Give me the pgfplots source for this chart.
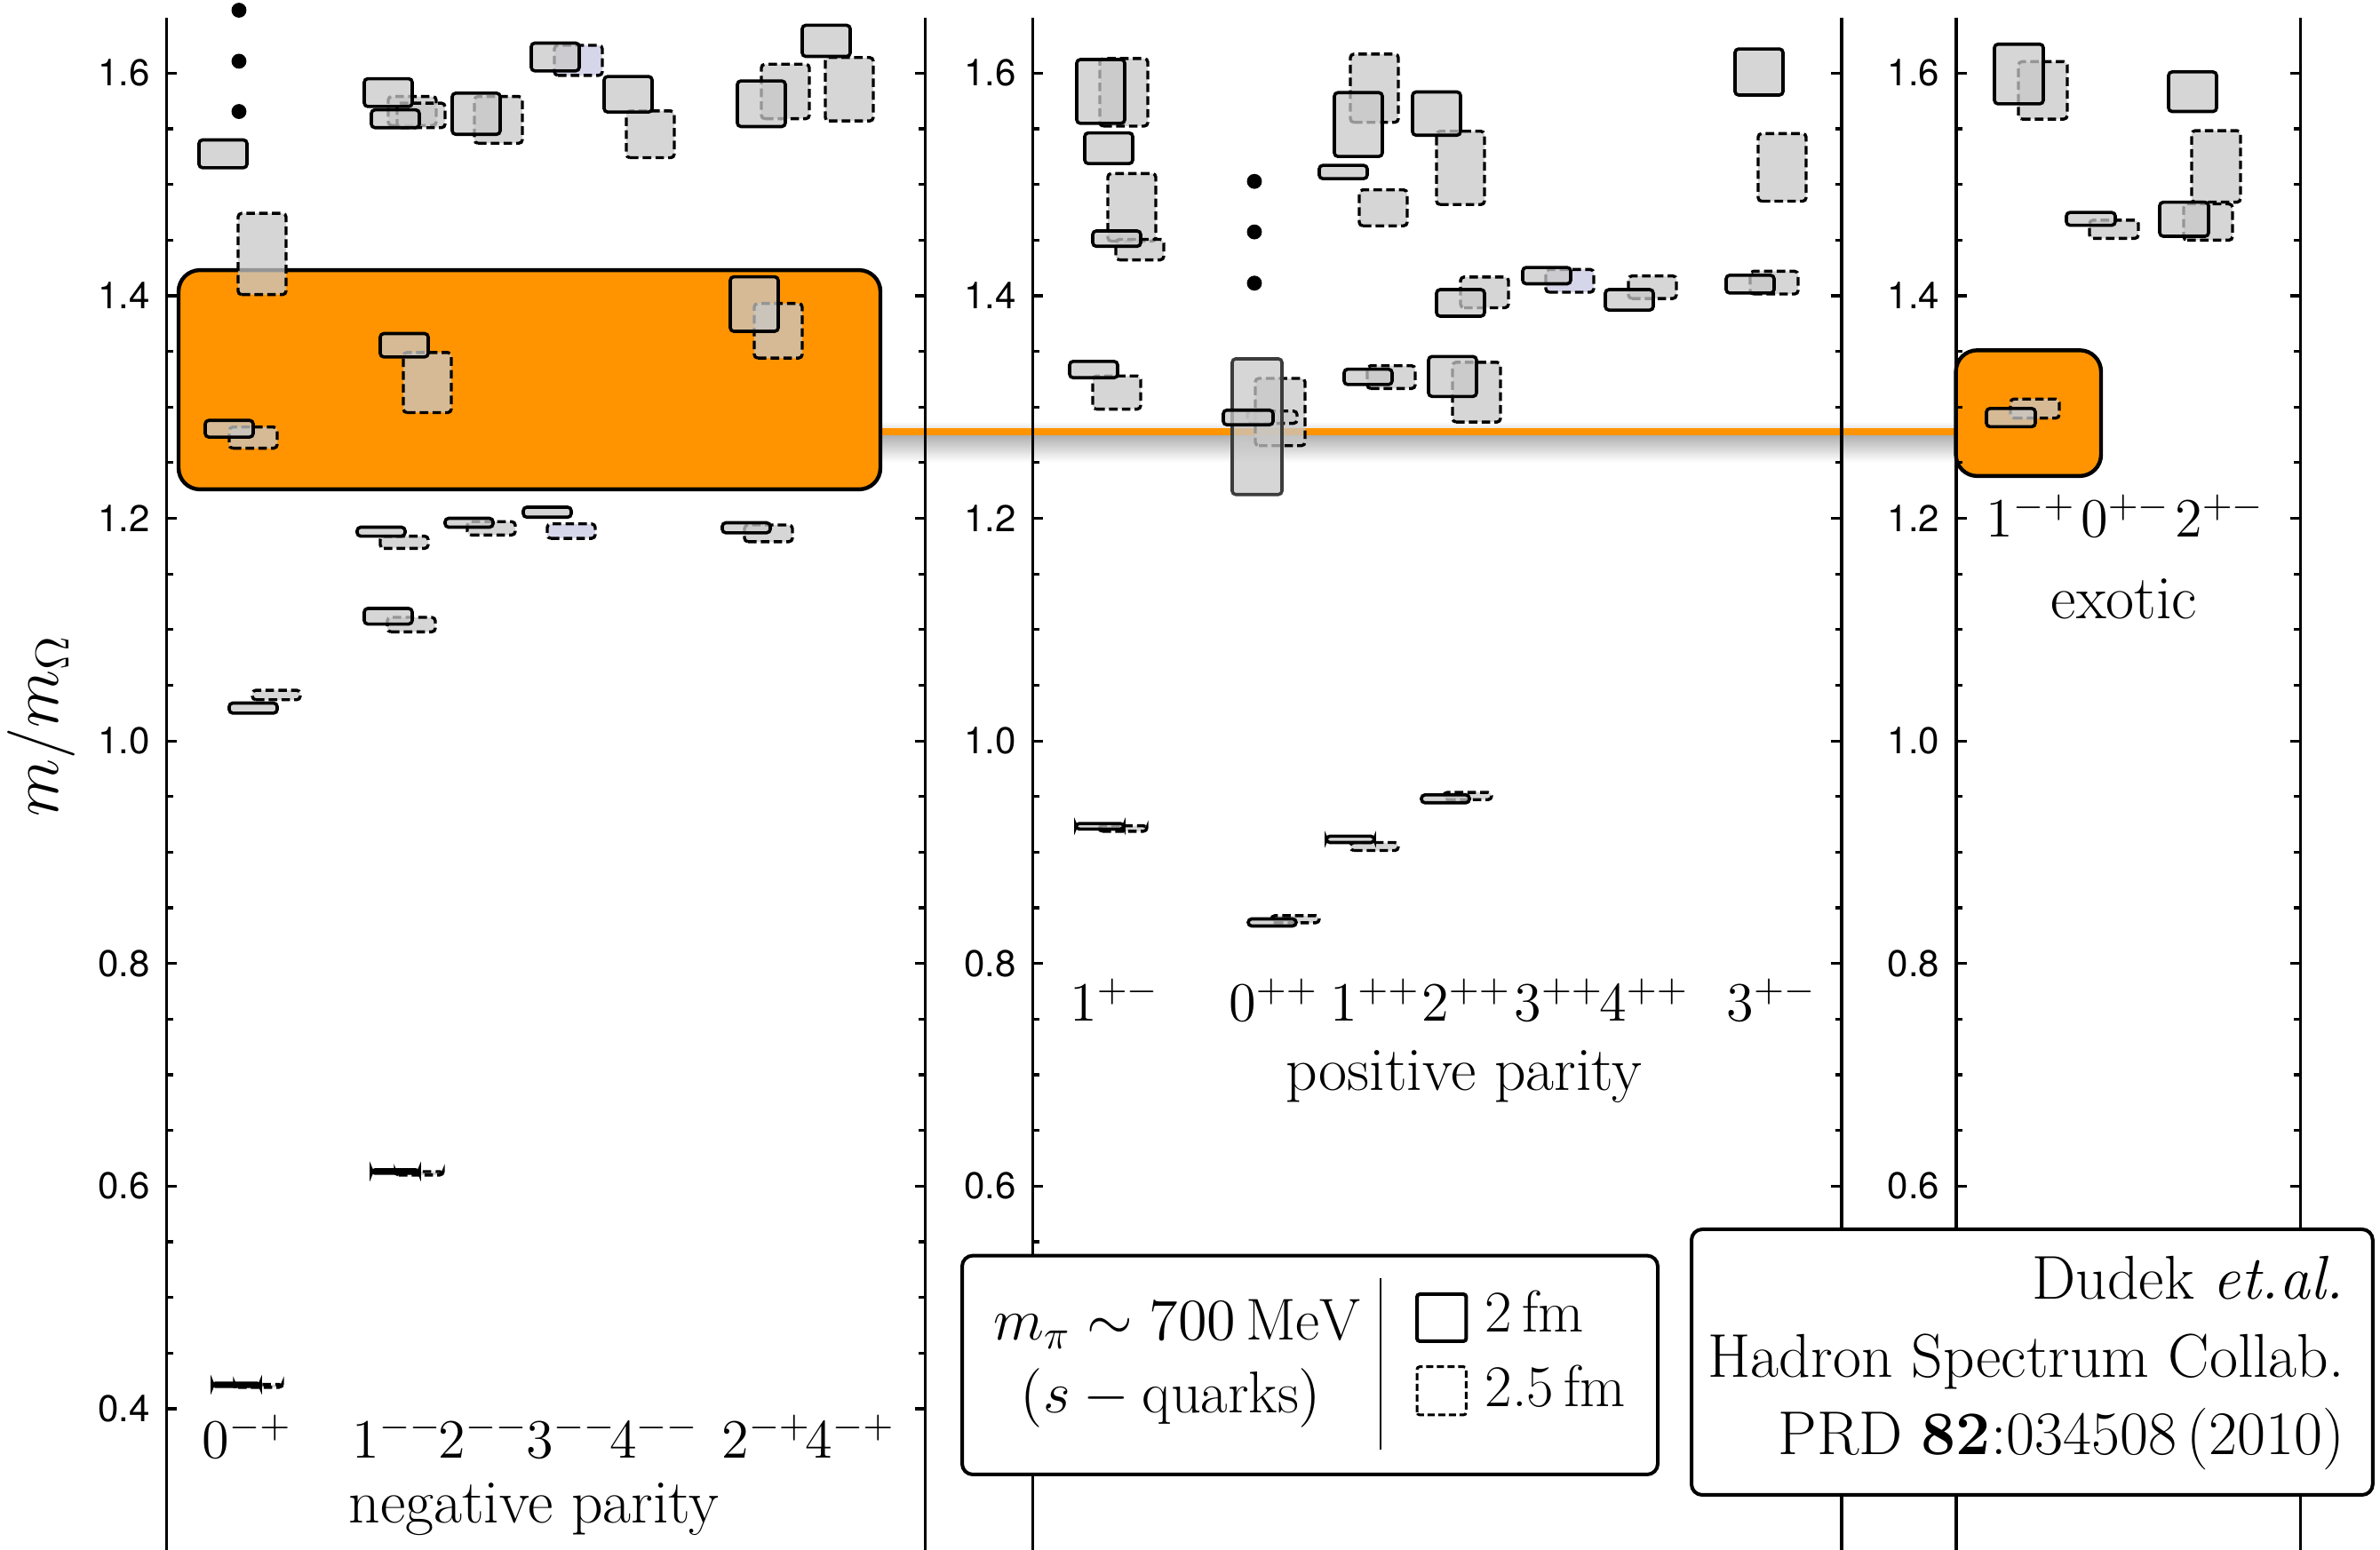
\RequirePackage{fix-cm}
\documentclass[border=0pt]{standalone}
\usepackage{fontspec}
\usepackage{pgfplots}
\pgfplotsset{compat=1.18}
\newfontfamily\ticksf{TeX Gyre Heros}
\definecolor{orng}{RGB}{255,148,0}
\definecolor{boxgray}{RGB}{200,200,200}
\definecolor{lav}{RGB}{200,200,228}
\definecolor{dkg}{RGB}{60,60,60}
\newcommand\lab{\fontsize{15.6}{19}\selectfont}
\newcommand\txt{\fontsize{17.4}{21}\selectfont}
\newcommand\leg{\fontsize{16.6}{20}\selectfont}
\tikzset{
  sbox/.style={draw=black, line width=0.9pt, fill=boxgray, fill opacity=0.75, rounded corners=1pt},
  dbox/.style={draw=black, line width=0.85pt, dash pattern=on 2.4pt off 1.2pt, fill=boxgray, fill opacity=0.75, rounded corners=1pt},
}
% \BX{style}{x left}{x right}{lower value}{upper value}
\newcommand\BX[5]{\addplot[#1] coordinates {(#2,#4) (#3,#4) (#3,#5) (#2,#5)} --cycle;}
\pgfplotsset{
  panel/.style={
    x=0.25pt, y=313.25pt,
    ymin=0.27306, ymax=1.65,
    axis x line=none, axis y line=box,
    ytick={0.4,0.6,0.8,1.0,1.2,1.4,1.6}, minor y tick num=3,
    ytick pos=both, yticklabel pos=left, tick align=inside,
    xtick=\empty,
    clip=false, axis on top,
    axis line style={line width=0.9pt},
    major tick length=2.9pt, minor tick length=1.8pt,
    every tick/.style={line width=0.8pt, black},
    yticklabel style={font=\ticksf\fontsize{10.5}{12}\selectfont, xshift=-1.2pt,
      /pgf/number format/.cd, fixed, fixed zerofill, precision=1, assume math mode=true},
    anchor=south west,
  },
  hidelow/.style={yticklabels={,0.6,0.8,1.0,1.2,1.4,1.6}},
}
\begin{document}
\begin{tikzpicture}
\useasboundingbox (0,0) rectangle (669.75pt,436.25pt);
% ---------------- negative parity ----------------
\begin{axis}[panel, at={(46.875pt,0pt)}, xmin=187.5, xmax=1041.5]
\addplot[draw=none, top color=black!32, bottom color=white] coordinates {(991,1.2505) (2202,1.2505) (2202,1.2755) (991,1.2755)} --cycle;
\addplot[draw=none, top color=white, bottom color=black!12] coordinates {(991,1.2795) (2202,1.2795) (2202,1.287) (991,1.287)} --cycle;
\addplot[orng, line width=2pt] coordinates {(991,1.278) (2202,1.278)};
\addplot[draw=black, line width=1.1pt, fill=orng, rounded corners=6pt] coordinates {(201,1.226) (991,1.226) (991,1.423) (201,1.423)} --cycle;
% 2.5 fm
\BX{dbox}{268}{322}{1.401}{1.474}
\BX{dbox}{258}{312}{1.263}{1.282}
\BX{dbox}{437}{491}{1.553}{1.579}
\BX{dbox}{447}{501}{1.551}{1.573}
\BX{dbox}{534}{588}{1.537}{1.579}
\BX{dbox,fill=lav}{624}{678}{1.598}{1.625}
\BX{dbox}{705}{759}{1.524}{1.566}
\BX{dbox}{857}{911}{1.559}{1.608}
\BX{dbox}{929}{983}{1.557}{1.614}
\BX{dbox}{454}{508}{1.295}{1.349}
\BX{dbox}{849}{903}{1.344}{1.393}
\BX{dbox}{428}{482}{1.173}{1.184}
\BX{dbox}{526}{580}{1.185}{1.197}
\BX{dbox,fill=lav}{616}{670}{1.182}{1.195}
\BX{dbox}{838}{892}{1.179}{1.194}
\BX{dbox}{436}{490}{1.098}{1.111}
\BX{dbox}{284}{338}{1.037}{1.0455}
\BX{dbox}{264}{318}{0.4192}{0.4218}
\BX{dbox}{445}{499}{0.610}{0.613}
% 2 fm
\BX{sbox}{224}{278}{1.515}{1.540}
\BX{sbox}{410}{464}{1.570}{1.595}
\BX{sbox}{418}{472}{1.551}{1.567}
\BX{sbox}{509}{563}{1.545}{1.582}
\BX{sbox}{598}{652}{1.602}{1.627}
\BX{sbox}{680}{734}{1.565}{1.597}
\BX{sbox}{830}{884}{1.552}{1.593}
\BX{sbox}{903}{957}{1.615}{1.643}
\BX{sbox}{231}{285}{1.273}{1.288}
\BX{sbox}{428}{482}{1.345}{1.366}
\BX{sbox}{822}{876}{1.368}{1.417}
\BX{sbox}{402}{456}{1.184}{1.192}
\BX{sbox}{501}{555}{1.192}{1.200}
\BX{sbox}{589}{643}{1.201}{1.210}
\BX{sbox}{813}{867}{1.187}{1.196}
\BX{sbox}{410}{464}{1.105}{1.119}
\BX{sbox}{258}{312}{1.025}{1.034}
\BX{sbox}{239}{293}{0.420}{0.423}
\BX{sbox}{418}{472}{0.6116}{0.6146}
\addplot[only marks, mark=*, mark size=1.9pt, black] coordinates {(269,1.6565) (269,1.6107) (269,1.5655)};
\node[anchor=base, font=\lab] at (axis cs:278,0.356) {$0^{-+}$};
\node[anchor=base, font=\lab] at (axis cs:447,0.356) {$1^{--}$};
\node[anchor=base, font=\lab] at (axis cs:544,0.356) {$2^{--}$};
\node[anchor=base, font=\lab] at (axis cs:643,0.356) {$3^{--}$};
\node[anchor=base, font=\lab] at (axis cs:736.5,0.356) {$4^{--}$};
\node[anchor=base, font=\lab] at (axis cs:862.7,0.356) {$2^{-+}$};
\node[anchor=base, font=\lab] at (axis cs:957,0.356) {$4^{-+}$};
\node[anchor=base, font=\txt] at (axis cs:601,0.297) {negative parity};
\end{axis}
% ---------------- positive parity ----------------
\begin{axis}[panel, hidelow, at={(290.625pt,0pt)}, xmin=1162.5, xmax=2073]
\BX{dbox}{1238}{1292}{1.5524}{1.6131}
\BX{dbox}{1247}{1301}{1.449}{1.5098}
\BX{dbox}{1256}{1310}{1.4322}{1.4506}
\BX{dbox}{1230}{1284}{1.2981}{1.3279}
\BX{dbox}{1413}{1469}{1.2653}{1.3257}
\BX{dbox}{1404}{1460}{1.2853}{1.2964}
\BX{dbox}{1520}{1574}{1.5558}{1.6171}
\BX{dbox}{1530}{1584}{1.4628}{1.4951}
\BX{dbox}{1539}{1593}{1.3166}{1.3371}
\BX{dbox}{1617}{1671}{1.4819}{1.5478}
\BX{dbox}{1644}{1698}{1.3892}{1.4168}
\BX{dbox}{1635}{1689}{1.2865}{1.3402}
\BX{dbox,fill=lav}{1740}{1794}{1.4031}{1.4236}
\BX{dbox}{1833}{1887}{1.3975}{1.4178}
\BX{dbox}{1979}{2033}{1.4849}{1.5457}
\BX{dbox}{1970}{2024}{1.4015}{1.4220}
\BX{dbox}{1237}{1291}{0.9188}{0.9238}
\BX{dbox}{1431}{1485}{0.8366}{0.843}
\BX{dbox}{1520}{1574}{0.9015}{0.9087}
\BX{dbox}{1625}{1679}{0.9472}{0.9537}
\BX{sbox}{1212}{1266}{1.5549}{1.6122}
\BX{sbox}{1221}{1275}{1.5187}{1.5463}
\BX{sbox}{1230}{1284}{1.4444}{1.4582}
\BX{sbox}{1204}{1258}{1.3263}{1.3410}
\BX{sbox,draw=dkg}{1387}{1443}{1.2214}{1.3433}
\BX{sbox}{1377}{1433}{1.2840}{1.2972}
\BX{sbox}{1502}{1556}{1.5251}{1.5825}
\BX{sbox}{1485}{1539}{1.5052}{1.5171}
\BX{sbox}{1513}{1567}{1.3202}{1.3340}
\BX{sbox}{1590}{1644}{1.5442}{1.5831}
\BX{sbox}{1617}{1671}{1.3816}{1.4055}
\BX{sbox}{1608}{1662}{1.3095}{1.3454}
\BX{sbox}{1714}{1768}{1.4107}{1.4254}
\BX{sbox}{1807}{1861}{1.3871}{1.4055}
\BX{sbox}{1953}{2007}{1.5803}{1.6217}
\BX{sbox}{1943}{1997}{1.4024}{1.4184}
\BX{sbox}{1211}{1265}{0.9208}{0.9258}
\BX{sbox}{1405}{1459}{0.8337}{0.8401}
\BX{sbox}{1493}{1547}{0.9087}{0.9144}
\BX{sbox}{1600}{1654}{0.9444}{0.9515}
\addplot[only marks, mark=*, mark size=1.9pt, black] coordinates {(1412,1.5027) (1412,1.4573) (1412,1.4113)};
\node[anchor=base, font=\lab] at (axis cs:1254.6,0.748) {$1^{+-}$};
\node[anchor=base, font=\lab] at (axis cs:1433.5,0.748) {$0^{++}$};
\node[anchor=base, font=\lab] at (axis cs:1548,0.748) {$1^{++}$};
\node[anchor=base, font=\lab] at (axis cs:1650.5,0.748) {$2^{++}$};
\node[anchor=base, font=\lab] at (axis cs:1754.7,0.748) {$3^{++}$};
\node[anchor=base, font=\lab] at (axis cs:1850.5,0.748) {$4^{++}$};
\node[anchor=base, font=\lab] at (axis cs:1993.8,0.748) {$3^{+-}$};
\node[anchor=base, font=\txt] at (axis cs:1648,0.686) {positive parity};
\end{axis}
% ---------------- exotic ----------------
\begin{axis}[panel, hidelow, at={(550.5pt,0pt)}, xmin=2202, xmax=2589.5]
\addplot[draw=black, line width=1.1pt, fill=orng, rounded corners=6pt] coordinates {(2201.6,1.238) (2365,1.238) (2365,1.351) (2201.6,1.351)} --cycle;
\BX{dbox}{2272}{2327}{1.5587}{1.6103}
\BX{dbox}{2352}{2407}{1.4515}{1.4679}
\BX{dbox}{2467}{2522}{1.4840}{1.5483}
\BX{dbox}{2458}{2513}{1.4499}{1.4825}
\BX{dbox}{2263}{2318}{1.2900}{1.3072}
\BX{sbox}{2245}{2300}{1.5724}{1.6260}
\BX{sbox}{2326}{2381}{1.4633}{1.4748}
\BX{sbox}{2441}{2495}{1.5655}{1.6011}
\BX{sbox}{2431}{2486}{1.4534}{1.4840}
\BX{sbox}{2236}{2291}{1.2823}{1.2987}
\node[anchor=base, font=\lab] at (axis cs:2286,1.183) {$1^{-+}$};
\node[anchor=base, font=\lab] at (axis cs:2392.5,1.183) {$0^{+-}$};
\node[anchor=base, font=\lab] at (axis cs:2498.6,1.183) {$2^{+-}$};
\node[anchor=base, font=\txt] at (axis cs:2391,1.110) {exotic};
\end{axis}
% y label
\node[rotate=90, font=\fontsize{19}{22}\selectfont] at (11.75pt,232pt) {$m/m_\Omega$};
% legend box
\draw[line width=1pt, fill=white, rounded corners=3pt] (270.75pt,21.25pt) rectangle (466.5pt,82.85pt);
\node[anchor=base, font=\leg] at (331.25pt,59.2pt) {$m_\pi\sim 700\,\mathrm{MeV}$};
\node[anchor=base, font=\leg] at (329.5pt,38.6pt) {$(s-\mathrm{quarks})$};
\draw[line width=0.6pt] (388.5pt,28.2pt) -- (388.5pt,76.4pt);
\draw[line width=1pt, rounded corners=0.8pt] (398.75pt,58.75pt) rectangle (412.6pt,72pt);
\draw[line width=0.75pt, dash pattern=on 2pt off 1pt, rounded corners=0.8pt] (398.75pt,38pt) rectangle (412.6pt,51.6pt);
\node[anchor=base west, font=\leg, inner sep=0pt] at (417.75pt,61.25pt) {2\,fm};
\node[anchor=base west, font=\leg, inner sep=0pt] at (417.75pt,40.25pt) {2.5\,fm};
% citation box
\draw[line width=1pt, fill=white, rounded corners=3pt] (476pt,15.5pt) rectangle (667.7pt,90.25pt);
\node[anchor=base east, inner sep=0pt, font=\txt] at (659.9pt,70.5pt) {Dudek \textit{et.al.}};
\node[anchor=base east, inner sep=0pt, font=\txt] at (659.9pt,48.7pt) {Hadron Spectrum Collab.};
\node[anchor=base east, inner sep=0pt, font=\txt] at (659.9pt,26.8pt) {PRD \textbf{82}:034508\,(2010)};
\end{tikzpicture}
\end{document}
